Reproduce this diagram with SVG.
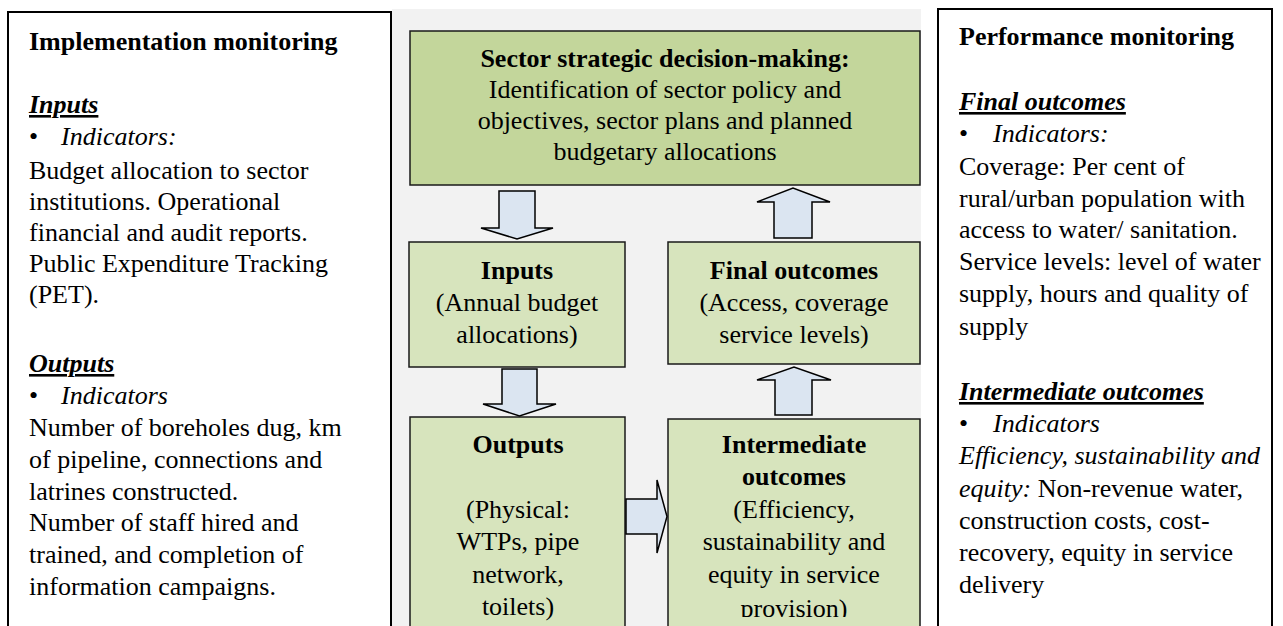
<svg xmlns="http://www.w3.org/2000/svg" width="1283" height="626" viewBox="0 0 1283 626">
  <defs>
    <style>
      text { font-family: "Liberation Serif", "Times New Roman", serif; font-size: 26px; fill: #000; }
      .b { font-weight: bold; }
      .i { font-style: italic; }
      .bi { font-weight: bold; font-style: italic; text-decoration: underline; }
      .c { text-anchor: middle; }
      .panel { fill: #ffffff; stroke: #000; stroke-width: 2; }
      .top { fill: #c3d69b; stroke: #1a1a1a; stroke-width: 1.5; }
      .box { fill: #d7e4bd; stroke: #1a1a1a; stroke-width: 1.5; }
      .arrow { fill: #dbe5f1; stroke: #000; stroke-width: 1.5; stroke-linejoin: miter; }
    </style>
    <clipPath id="clipInter">
      <rect x="668" y="419" width="252" height="198"/>
    </clipPath>
  </defs>

  <rect x="0" y="0" width="1283" height="626" fill="#ffffff"/>
  <rect x="392" y="9" width="529" height="620" fill="#f2f2f2"/>

  <g id="panel-left">
    <rect class="panel" x="8" y="12" width="383" height="630"/>
    <text class="b" x="29" y="50">Implementation monitoring</text>
    <text class="bi" x="29" y="113">Inputs</text>
    <text x="29" y="145">•</text>
    <text class="i" x="61" y="145">Indicators:</text>
    <text x="29" y="179">Budget allocation to sector</text>
    <text x="29" y="210">institutions. Operational</text>
    <text x="29" y="241">financial and audit reports.</text>
    <text x="29" y="272">Public Expenditure Tracking</text>
    <text x="29" y="303">(PET).</text>
    <text class="bi" x="29" y="372">Outputs</text>
    <text x="29" y="404">•</text>
    <text class="i" x="61" y="404">Indicators</text>
    <text x="29" y="436">Number of boreholes dug, km</text>
    <text x="29" y="468">of pipeline, connections and</text>
    <text x="29" y="500">latrines constructed.</text>
    <text x="29" y="531">Number of staff hired and</text>
    <text x="29" y="563">trained, and completion of</text>
    <text x="29" y="595">information campaigns.</text>
  </g>

  <g id="panel-right">
    <rect class="panel" x="938" y="9" width="334" height="630"/>
    <text class="b" x="959" y="45">Performance monitoring</text>
    <text class="bi" x="959" y="110">Final outcomes</text>
    <text x="959" y="142">•</text>
    <text class="i" x="993" y="142">Indicators:</text>
    <text x="959" y="175">Coverage: Per cent of</text>
    <text x="959" y="207">rural/urban population with</text>
    <text x="959" y="238">access to water/ sanitation.</text>
    <text x="959" y="270">Service levels: level of water</text>
    <text x="959" y="302">supply, hours and quality of</text>
    <text x="959" y="335">supply</text>
    <text class="bi" x="959" y="400">Intermediate outcomes</text>
    <text x="959" y="432">•</text>
    <text class="i" x="993" y="432">Indicators</text>
    <text class="i" x="959" y="464">Efficiency, sustainability and</text>
    <text x="959" y="497"><tspan class="i">equity:</tspan> Non-revenue water,</text>
    <text x="959" y="529">construction costs, cost-</text>
    <text x="959" y="561">recovery, equity in service</text>
    <text x="959" y="593">delivery</text>
  </g>

  <g id="node-strategic">
    <rect class="top" x="410" y="31" width="510" height="154"/>
    <text class="b c" x="665" y="67">Sector strategic decision-making:</text>
    <text class="c" x="665" y="98">Identification of sector policy and</text>
    <text class="c" x="665" y="129">objectives, sector plans and planned</text>
    <text class="c" x="665" y="160">budgetary allocations</text>
  </g>

  <g id="node-inputs">
    <rect class="box" x="409" y="242" width="216" height="125"/>
    <text class="b c" x="517" y="279">Inputs</text>
    <text class="c" x="517" y="311">(Annual budget</text>
    <text class="c" x="517" y="343">allocations)</text>
  </g>

  <g id="node-final">
    <rect class="box" x="668" y="242" width="252" height="122"/>
    <text class="b c" x="794" y="279">Final outcomes</text>
    <text class="c" x="794" y="311">(Access, coverage</text>
    <text class="c" x="794" y="343">service levels)</text>
  </g>

  <g id="node-outputs">
    <rect class="box" x="410" y="417" width="215" height="230"/>
    <text class="b c" x="518" y="453">Outputs</text>
    <text class="c" x="518" y="518">(Physical:</text>
    <text class="c" x="518" y="550">WTPs, pipe</text>
    <text class="c" x="518" y="583">network,</text>
    <text class="c" x="518" y="615">toilets)</text>
  </g>

  <g id="node-intermediate">
    <rect class="box" x="668" y="419" width="252" height="230"/>
    <g clip-path="url(#clipInter)">
      <text class="b c" x="794" y="453">Intermediate</text>
      <text class="b c" x="794" y="485">outcomes</text>
      <text class="c" x="794" y="518">(Efficiency,</text>
      <text class="c" x="794" y="550">sustainability and</text>
      <text class="c" x="794" y="583">equity in service</text>
      <text class="c" x="794" y="617">provision)</text>
    </g>
  </g>

  <g id="connectors">
    <polygon class="arrow" points="499,191 535,191 535,228 553,228 517,239 481,228 499,228"/>
    <polygon class="arrow" points="502,369 537,369 537,404 556,404 519.5,416 483,404 502,404"/>
    <polygon class="arrow" points="774,238 812,238 812,202 830,202 793,188 757,202 774,202"/>
    <polygon class="arrow" points="775,415 812,415 812,380 831,380 794,367 757,380 775,380"/>
    <polygon class="arrow" points="626,499 657,499 657,480 667,516.5 657,553 657,534 626,534"/>
  </g>
</svg>
